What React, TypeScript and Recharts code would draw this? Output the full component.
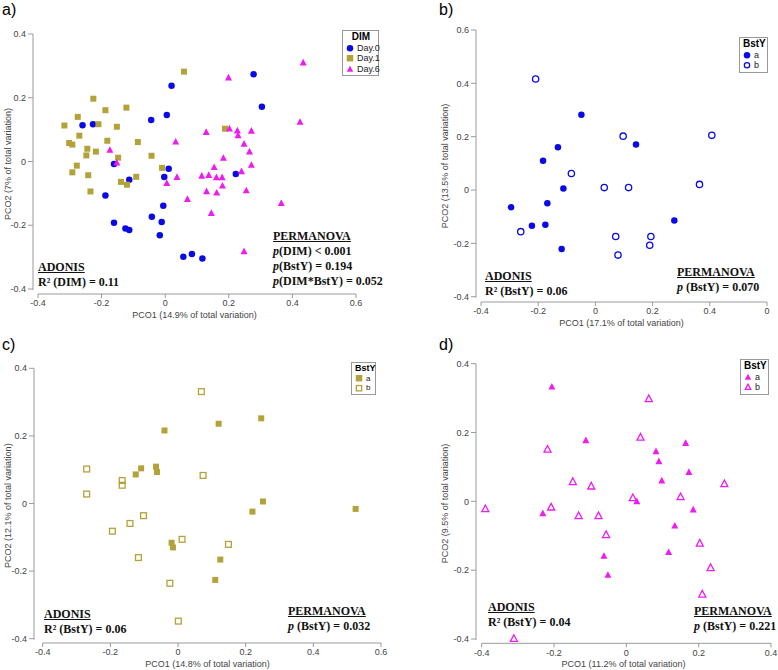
import React from 'react';
import { ScatterChart, Scatter, XAxis, YAxis, Legend } from 'recharts';

type Pt = [number, number];

// a) all samples by DIM
const day0: Pt[] = [
  [0.020, 0.238], [0.278, 0.274], [0.304, 0.172], [-0.260, 0.114], [-0.227, 0.117],
  [-0.044, 0.130], [0.005, 0.146], [-0.161, -0.008], [0.011, -0.023], [-0.113, -0.057],
  [-0.188, -0.107], [-0.003, -0.049], [0.222, -0.039], [-0.006, -0.139], [-0.042, -0.173],
  [-0.011, -0.190], [-0.161, -0.192], [-0.125, -0.210], [-0.113, -0.215], [-0.017, -0.231],
  [0.057, -0.299], [0.084, -0.290], [0.117, -0.304],
];
const day1: Pt[] = [
  [0.059, 0.282], [-0.226, 0.197], [-0.188, 0.161], [-0.122, 0.169], [-0.317, 0.113],
  [-0.275, 0.140], [-0.210, 0.117], [-0.152, 0.109], [-0.270, 0.081], [-0.302, 0.058],
  [-0.292, 0.053], [-0.182, 0.065], [-0.245, 0.040], [-0.218, 0.031], [-0.248, 0.019],
  [-0.086, 0.061], [-0.043, 0.018], [-0.148, 0.012], [0.188, 0.103], [-0.278, -0.013],
  [-0.010, -0.020], [-0.292, -0.034], [-0.242, -0.043], [-0.139, -0.064], [-0.120, -0.073],
  [-0.091, -0.048], [-0.235, -0.094],
];
const day6: Pt[] = [
  [0.434, 0.310], [0.199, 0.263], [0.424, 0.124], [0.129, 0.092], [0.202, 0.103],
  [0.227, 0.097], [0.229, 0.082], [0.271, 0.096], [0.033, 0.062], [0.248, 0.055],
  [-0.174, 0.036], [0.265, 0.031], [0.183, 0.011], [-0.152, -0.004], [0.271, -0.011],
  [0.154, -0.018], [0.005, -0.068], [0.037, -0.049], [0.115, -0.045], [0.137, -0.043],
  [0.161, -0.050], [0.179, -0.050], [0.180, -0.076], [0.240, -0.031], [0.130, -0.094],
  [0.162, -0.098], [0.255, -0.091], [0.070, -0.118], [0.365, -0.131], [0.145, -0.162],
  [0.248, -0.282],
];

// b) Day.0 by BstY
const bA: Pt[] = [
  [-0.049, 0.282], [-0.131, 0.160], [0.142, 0.171], [-0.183, 0.110], [-0.112, 0.006],
  [-0.168, -0.050], [-0.295, -0.065], [-0.222, -0.134], [-0.175, -0.130], [-0.118, -0.221],
  [0.276, -0.114],
];
const bB: Pt[] = [
  [-0.209, 0.416], [0.097, 0.202], [0.407, 0.205], [-0.084, 0.062], [0.031, 0.009],
  [0.116, 0.009], [0.364, 0.021], [-0.261, -0.156], [0.071, -0.174], [0.194, -0.174],
  [0.190, -0.207], [0.079, -0.244],
];

// c) Day.1 by BstY
const cA: Pt[] = [
  [-0.040, 0.216], [0.120, 0.236], [0.246, 0.252], [-0.125, 0.086], [-0.109, 0.104],
  [-0.065, 0.109], [-0.062, 0.093], [0.251, 0.006], [0.220, -0.024], [0.525, -0.016],
  [-0.019, -0.116], [-0.015, -0.130], [0.125, -0.166], [0.110, -0.226],
];
const cB: Pt[] = [
  [0.069, 0.331], [-0.270, 0.102], [-0.270, 0.028], [-0.165, 0.068], [-0.165, 0.054],
  [0.074, 0.083], [-0.102, -0.036], [-0.142, -0.059], [-0.194, -0.082], [0.012, -0.106],
  [0.149, -0.121], [-0.117, -0.160], [-0.024, -0.236], [0.001, -0.348],
];

// d) Day.6 by BstY
const dA: Pt[] = [
  [-0.206, 0.333], [-0.112, 0.177], [0.082, 0.145], [0.090, 0.116], [0.164, 0.169],
  [0.173, 0.085], [0.098, 0.060], [0.029, 0.000], [-0.231, -0.035], [0.185, -0.024],
  [0.134, -0.071], [0.117, -0.148], [-0.062, -0.159], [-0.051, -0.214],
];
const dB: Pt[] = [
  [0.062, 0.298], [0.039, 0.186], [-0.218, 0.151], [-0.148, 0.057], [-0.097, 0.044],
  [0.271, 0.051], [0.018, 0.010], [0.150, 0.013], [-0.390, -0.022], [-0.208, -0.017],
  [-0.132, -0.042], [-0.077, -0.042], [-0.056, -0.097], [0.203, -0.122], [0.233, -0.193],
  [0.210, -0.270], [-0.311, -0.399],
];

const ticks6 = [-0.4, -0.2, 0, 0.2, 0.4, 0.6];
const ticks5 = [-0.4, -0.2, 0, 0.2, 0.4];

const BLUE = '#0a0ae6';
const OLIVE = '#b3a23a';
const MAGENTA = '#ee1cee';
const AXIS = '#9a9a9a';
const SANS = '"Liberation Sans", Arial, sans-serif';
const SERIF = '"Liberation Serif", "Times New Roman", serif';

const toXY = (pts: Pt[]) => pts.map(([x, y]) => ({ x, y }));

function mark(kind: string, color: string, filled: boolean, s: number, cx: number, cy: number) {
  const fill = filled ? color : 'none';
  const sw = filled ? 0 : 1.3;
  if (kind === 'circle') {
    return <circle cx={cx} cy={cy} r={filled ? s / 2 : s / 2 - 0.6} fill={fill} stroke={color} strokeWidth={sw} />;
  }
  if (kind === 'square') {
    const h = filled ? s : s - 1.2;
    return <rect x={cx - h / 2} y={cy - h / 2} width={h} height={h} fill={fill} stroke={color} strokeWidth={sw} />;
  }
  const w = filled ? s : s - 1;
  const pts = `${cx},${cy - w * 0.55} ${cx - w / 2},${cy + w * 0.4} ${cx + w / 2},${cy + w * 0.4}`;
  return <polygon points={pts} fill={fill} stroke={color} strokeWidth={sw} strokeLinejoin="miter" />;
}

const shape = (kind: string, color: string, filled: boolean, s: number) => (props: any) => {
  if (props.cx == null || props.cy == null) return <g />;
  return mark(kind, color, filled, s, props.cx, props.cy);
};

type Series = { name: string; data: Pt[]; kind: string; color: string; filled: boolean; size: number };

const panels = [
  {
    letter: 'a)', left: 0, top: 0, width: 390, height: 335,
    yAxisX: 33, xAxisY: 294, x0: 38, x1: 356, yTop: 34, yBot: 289,
    xDomain: [-0.4, 0.6], yDomain: [-0.4, 0.4], xTicks: ticks6, yTicks: ticks5,
    xLabel: 'PCO1 (14.9% of total variation)', yLabel: 'PCO2 (7% of total variation)', yLabelOffset: 8,
    series: [
      { name: 'Day.0', data: day0, kind: 'circle', color: BLUE, filled: true, size: 6.5 },
      { name: 'Day.1', data: day1, kind: 'square', color: OLIVE, filled: true, size: 6 },
      { name: 'Day.6', data: day6, kind: 'triangle', color: MAGENTA, filled: true, size: 7 },
    ] as Series[],
    legend: { title: 'DIM', left: 342, top: 30, width: 37, fs: 9 },
    adonis: { left: 38, top: 260, lines: ['R² (DIM) = 0.11'] },
    perm: { left: 273, top: 229, lines: ['(DIM) < 0.001', '(BstY) = 0.194', '(DIM*BstY) = 0.052'] },
  },
  {
    letter: 'b)', left: 390, top: 0, width: 388, height: 335,
    yAxisX: 476, xAxisY: 302, x0: 481, x1: 767, yTop: 30, yBot: 296.7,
    xDomain: [-0.4, 0.6], yDomain: [-0.4, 0.6], xTicks: ticks6, yTicks: ticks6,
    xLabel: 'PCO1 (17.1% of total variation)', yLabel: 'PCO2 (13.5% of total variation)', yLabelOffset: 55,
    series: [
      { name: 'a', data: bA, kind: 'circle', color: BLUE, filled: true, size: 6.5 },
      { name: 'b', data: bB, kind: 'circle', color: BLUE, filled: false, size: 7.5 },
    ] as Series[],
    legend: { title: 'BstY', left: 349, top: 37, width: 29, fs: 9 },
    adonis: { left: 485, top: 269, lines: ['R² (BstY) = 0.06'] },
    perm: { left: 677, top: 265, lines: [' (BstY) = 0.070'] },
  },
  {
    letter: 'c)', left: 0, top: 335, width: 390, height: 335,
    yAxisX: 34, xAxisY: 643, x0: 42.7, x1: 381, yTop: 368.3, yBot: 638.7,
    xDomain: [-0.4, 0.6], yDomain: [-0.4, 0.4], xTicks: ticks6, yTicks: ticks5,
    xLabel: 'PCO1 (14.8% of total variation)', yLabel: 'PCO2 (12.1% of total variation)', yLabelOffset: 8,
    series: [
      { name: 'a', data: cA, kind: 'square', color: OLIVE, filled: true, size: 6 },
      { name: 'b', data: cB, kind: 'square', color: OLIVE, filled: false, size: 7 },
    ] as Series[],
    legend: { title: 'BstY', left: 351, top: 27, width: 25, fs: 8 },
    adonis: { left: 44, top: 607, lines: ['R² (BstY) = 0.06'] },
    perm: { left: 288, top: 604, lines: [' (BstY) = 0.032'] },
  },
  {
    letter: 'd)', left: 390, top: 335, width: 388, height: 335,
    yAxisX: 476, xAxisY: 643.3, x0: 481.7, x1: 771, yTop: 363.7, yBot: 639,
    xDomain: [-0.4, 0.4], yDomain: [-0.4, 0.4], xTicks: ticks5, yTicks: ticks5,
    xLabel: 'PCO1 (11.2% of total variation)', yLabel: 'PCO2 (9.5% of total variation)', yLabelOffset: 55,
    series: [
      { name: 'a', data: dA, kind: 'triangle', color: MAGENTA, filled: true, size: 7 },
      { name: 'b', data: dB, kind: 'triangle', color: MAGENTA, filled: false, size: 8 },
    ] as Series[],
    legend: { title: 'BstY', left: 350, top: 24, width: 29, fs: 9 },
    adonis: { left: 488, top: 600, lines: ['R² (BstY) = 0.04'] },
    perm: { left: 694, top: 604, lines: [' (BstY) = 0.221'] },
  },
];

const LegendBox = ({ title, series, width, fs }: any) => (
  <div
    style={{
      width, boxSizing: 'border-box', border: '1px solid #999', background: '#fff',
      fontFamily: SANS, fontSize: fs, lineHeight: `${fs + 1.5}px`, padding: '1px 2px 1px 3px', color: '#222',
    }}
  >
    <div style={{ fontWeight: 'bold', textAlign: 'center', fontSize: fs + 1, color: '#000' }}>{title}</div>
    {series.map((s: Series) => (
      <div key={s.name} style={{ display: 'flex', alignItems: 'center', whiteSpace: 'nowrap' }}>
        <svg width={8} height={8} style={{ marginRight: 3, flex: 'none' }}>
          {mark(s.kind, s.color, s.filled, 6.5, 4, 4.2)}
        </svg>
        {s.name}
      </div>
    ))}
  </div>
);

const noteStyle: React.CSSProperties = {
  position: 'absolute', fontFamily: SERIF, fontWeight: 'bold', fontSize: 12,
  lineHeight: '15px', color: '#111', whiteSpace: 'nowrap',
};

const Panel = ({ p }: any) => {
  const xh = 24;
  const margin = {
    top: p.yTop - p.top,
    right: p.left + p.width - p.x1,
    bottom: p.top + p.height - p.xAxisY - xh,
    left: 0,
  };
  const padL = p.x0 - p.yAxisX;
  const padB = p.xAxisY - p.yBot;
  const tickStyle = { fontSize: 9, fill: '#444', fontFamily: SANS };
  // panel b's last x tick is printed as a clipped "0" in the original
  const xFmt = (v: number) => (p.letter === 'b)' && v === 0.6 ? '0' : String(v));
  return (
    <div style={{ position: 'absolute', left: p.left, top: p.top, width: p.width, height: p.height }}>
      <ScatterChart width={p.width} height={p.height} margin={margin}>
        <XAxis
          type="number" dataKey="x" domain={p.xDomain} ticks={p.xTicks} interval={0}
          padding={{ left: padL, right: 0 }} height={xh} tickSize={4} tickMargin={2}
          tickFormatter={xFmt} tick={tickStyle} tickLine={{ stroke: AXIS }}
          axisLine={{ stroke: AXIS, strokeDasharray: `0 ${padL} ${p.x1 - p.x0 + 1} 10000` }}
          label={{ value: p.xLabel, position: 'insideBottom', offset: 0, style: { fontSize: 9, fill: '#444', fontFamily: SANS } }}
        />
        <YAxis
          type="number" dataKey="y" domain={p.yDomain} ticks={p.yTicks} interval={0}
          padding={{ top: 0, bottom: padB }} width={p.yAxisX - p.left} tickSize={5} tickMargin={2}
          tick={tickStyle} tickLine={{ stroke: AXIS }}
          axisLine={{ stroke: AXIS, strokeDasharray: `${p.yBot - p.yTop + 1} 10000` }}
          label={{
            value: p.yLabel, angle: -90, position: 'insideLeft', offset: p.yLabelOffset,
            style: { textAnchor: 'middle', fontSize: 9, fill: '#444', fontFamily: SANS },
          }}
        />
        {p.series.map((s: Series) => (
          <Scatter
            key={s.name} name={s.name} data={toXY(s.data)} isAnimationActive={false}
            shape={shape(s.kind, s.color, s.filled, s.size)}
          />
        ))}
        <Legend
          layout="vertical" align="center" verticalAlign="middle"
          wrapperStyle={{ left: p.legend.left, top: p.legend.top, width: 'auto', height: 'auto' }}
          content={() => <LegendBox title={p.legend.title} series={p.series} width={p.legend.width} fs={p.legend.fs} />}
        />
      </ScatterChart>
      <div style={{ position: 'absolute', left: p.letter === 'a)' || p.letter === 'c)' ? 2 : 49, top: 1, fontFamily: SANS, fontSize: 16 }}>
        {p.letter}
      </div>
      <div style={{ ...noteStyle, left: p.adonis.left - p.left, top: p.adonis.top - p.top }}>
        <div style={{ textDecoration: 'underline' }}>ADONIS</div>
        {p.adonis.lines.map((l: string) => <div key={l}>{l}</div>)}
      </div>
      <div style={{ ...noteStyle, left: p.perm.left - p.left, top: p.perm.top - p.top }}>
        <div style={{ textDecoration: 'underline' }}>PERMANOVA</div>
        {p.perm.lines.map((l: string) => (
          <div key={l}><i>p</i>{l}</div>
        ))}
      </div>
    </div>
  );
};

export default function App() {
  return (
    <div style={{ position: 'absolute', left: 0, top: 0, width: 778, height: 670, background: '#fff' }}>
      {panels.map((p) => <Panel key={p.letter} p={p} />)}
    </div>
  );
}
